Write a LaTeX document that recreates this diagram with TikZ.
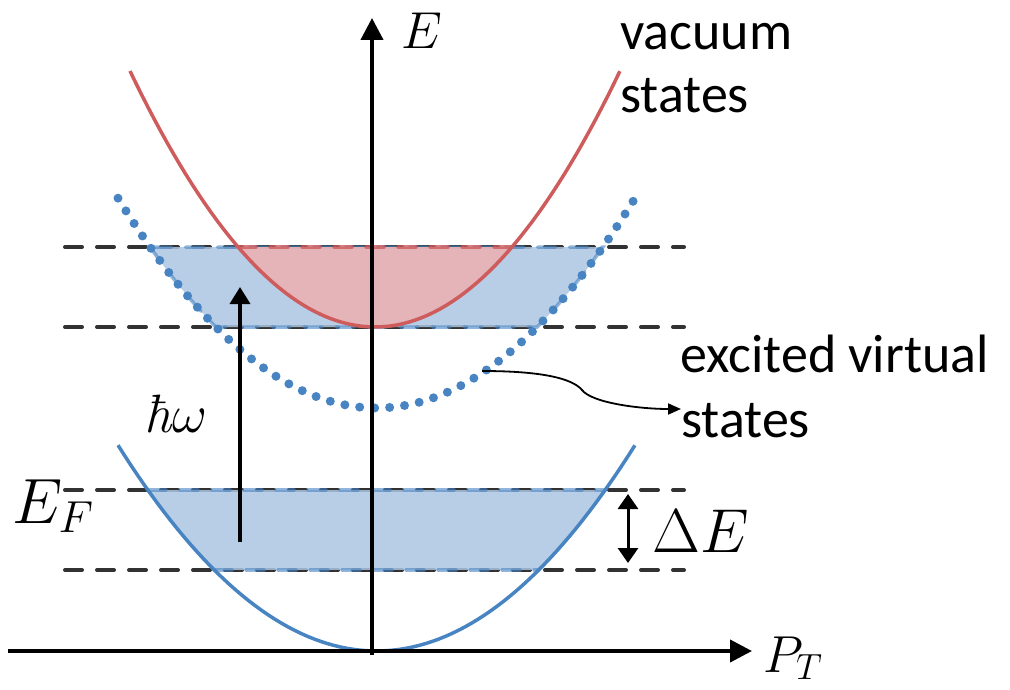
\RequirePackage{fix-cm}
\documentclass[tikz,border=0pt]{standalone}
\usepackage{fontspec}
\newfontfamily\carl{Carlito}
\usetikzlibrary{arrows.meta}
\definecolor{redline}{RGB}{206,92,92}
\definecolor{redfill}{RGB}{233,178,180}
\definecolor{blueline}{RGB}{72,132,194}
\definecolor{bluefill}{RGB}{170,198,226}
\definecolor{dashgray}{RGB}{50,50,50}
\tikzset{
  levelline/.style={dashgray, line width=4pt, dash pattern=on 17pt off 15pt, line cap=round},
  bandfill/.style={fill=bluefill, fill opacity=0.85},
  bandedge/.style={blueline, line width=3.5pt, dash pattern=on 18pt off 14pt, line cap=round, opacity=0.6},
  curveline/.style={line width=3.5pt},
  dotline/.style={blueline, line width=9pt, line cap=round, dash pattern=on 0pt off 15pt},
  axisline/.style={line width=4pt, -{Triangle[length=22pt,width=22pt]}},
  lbl/.style={font=\carl\fontsize{54}{63}\selectfont, anchor=base west, inner sep=0pt},
  mlbl/.style={anchor=base west, inner sep=0pt},
}
\begin{document}
\begin{tikzpicture}[x=1pt,y=-1pt]
\useasboundingbox (0,0) rectangle (1010,690);

% level lines
\draw[levelline] (65,247) -- (684,247);
\draw[levelline] (65,327) -- (684,327);
\draw[levelline] (65,490) -- (684,490);
\draw[levelline] (65,570) -- (684,570);

% upper blue band (between dotted parabola branches)
\path[bandfill] plot[domain=-2.264:-1.606, samples=30] ({376.5+100*\x},{408-31.4*\x*\x})
   -- plot[domain=1.606:2.264, samples=30] ({376.5+100*\x},{408-31.4*\x*\x}) -- cycle;
\draw[bandedge] plot[domain=-2.264:-1.606, samples=30] ({376.5+100*\x},{408-31.4*\x*\x})
   -- plot[domain=1.606:2.264, samples=30] ({376.5+100*\x},{408-31.4*\x*\x}) -- cycle;

% lower blue band
\path[bandfill] plot[domain=-2.286:-1.622, samples=30] ({376.5+100*\x},{651-30.8*\x*\x})
   -- plot[domain=1.622:2.286, samples=30] ({376.5+100*\x},{651-30.8*\x*\x}) -- cycle;
\draw[bandedge] (148,490) -- (605,490);
\draw[bandedge] (214,570) -- (539,570);

% red region
\path[fill=redfill, fill opacity=0.92] plot[domain=-1.3696:1.3696, samples=40] ({375+100*\x},{327-42.65*\x*\x}) -- cycle;
\draw[redline, line width=3.5pt, dash pattern=on 18pt off 14pt, line cap=round, opacity=0.8] (238,247) -- (512,247);

% curves
\draw[dotline] plot[domain=-2.585:2.585, samples=80] ({376.5+100*\x},{408-31.4*\x*\x});
\draw[curveline, redline] plot[domain=-2.45:2.45, samples=80] ({375+100*\x},{327-42.65*\x*\x});
\draw[curveline, blueline] plot[domain=-2.585:2.585, samples=80] ({376.5+100*\x},{651-30.8*\x*\x});

% axes
\coordinate (xs) at (8,651);
\coordinate (xe) at (752,651);
\coordinate (ys) at (372,655);
\coordinate (ye) at (372,18);
\draw[axisline] (xs) -- (xe);
\draw[axisline] (ys) -- (ye);

% hbar omega arrow
\coordinate (hw1) at (240,542);
\coordinate (hw2) at (240,287);
\draw[line width=3.5pt, -{Triangle[length=17pt,width=20pt]}] (hw1) -- (hw2);

% Delta E arrow
\coordinate (de1) at (628,494);
\coordinate (de2) at (628,563);
\draw[line width=3pt, {Triangle[length=15pt,width=20pt]}-{Triangle[length=15pt,width=20pt]}] (de1) -- (de2);

% connector to label
\coordinate (c1) at (482,371);
\coordinate (c2) at (681,409);
\draw[line width=1.8pt, -{Triangle[length=13pt,width=11pt]}] (c1) .. controls (540,371) and (572,378) .. (582,390) .. controls (592,403) and (640,409) .. (c2);

% text labels
\node[lbl] (vac1) at (620,50) {vacuum};
\node[lbl] (vac2) at (620,113) {states};
\node[lbl] (exc1) at (680,372) {excited virtual};
\node[lbl] (exc2) at (681,437) {states};

% math labels
\node[mlbl] (Elab) at (401,49) {\fontsize{52}{52}\selectfont$E$};
\node[mlbl] (PT) at (763,672) {\fontsize{52}{52}\selectfont$P_T$};
\node[mlbl] (hw) at (144,432) {\fontsize{54}{54}\selectfont\textit{ħ}$\omega$};
\node[mlbl] (dE) at (652,552) {\fontsize{62}{62}\selectfont$\Delta E$};
\node[mlbl] (EF) at (12,523) {\fontsize{64}{64}\selectfont$E_F$};
\end{tikzpicture}
\end{document}
